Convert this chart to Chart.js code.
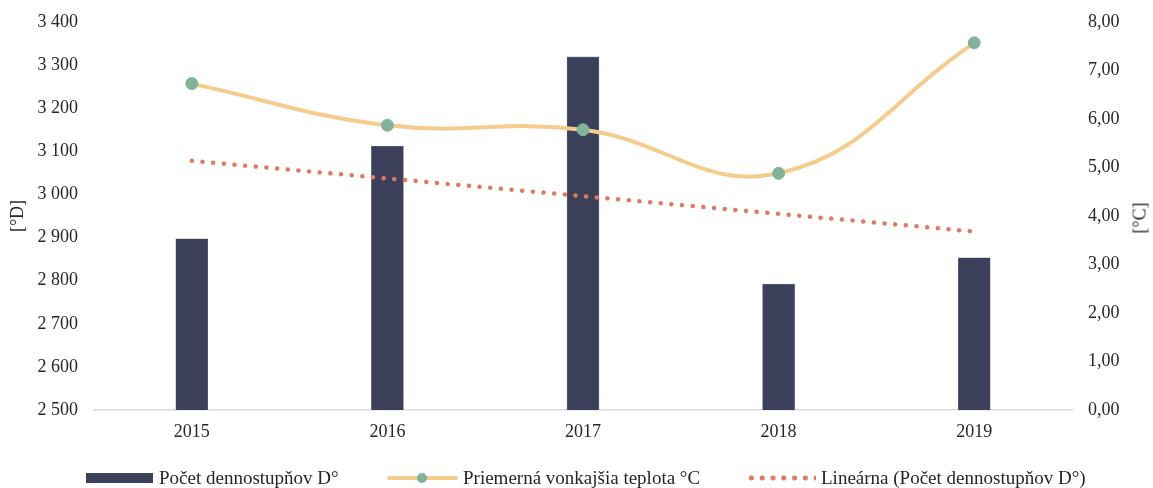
<!DOCTYPE html>
<html>
<head>
<meta charset="utf-8">
<script src="https://cdn.jsdelivr.net/npm/chart.js@4"></script>
<style>
  html, body { margin: 0; padding: 0; background: #fff; }
  #wrap { position: relative; width: 1153px; height: 488px; font-family: "Liberation Serif", "Times New Roman", serif; }
  #legend { position: absolute; left: 0; top: 466px; height: 24px; font-size: 19px; color: #262626; }
  .item { position: absolute; top: 0; white-space: nowrap; line-height: 24px; }
  .sw { position: absolute; }
  .txt { position: absolute; top: 0; }
  #rtitle { position: absolute; left: 1140px; top: 218px; font-size: 18px; color: #262626;
            transform: translate(-50%, -50%) rotate(-90deg); white-space: nowrap; }
</style>
</head>
<body>
<div id="wrap">
  <canvas id="chart" width="1153" height="488"></canvas>
  <div id="rtitle">[°C]</div>
  <div id="legend">
    <div class="item" style="left:86px">
      <span class="sw" style="left:0;top:7px;width:67px;height:10px;background:#3d405b"></span>
      <span class="txt" style="left:73px">Počet dennostupňov D°</span>
    </div>
    <div class="item" style="left:387px">
      <span class="sw" style="left:0;top:10px;width:71px;height:4px;background:#f5cc8c;border-radius:2px"></span>
      <span class="sw" style="left:30px;top:7px;width:10px;height:10px;background:#81b29a;border-radius:50%"></span>
      <span class="txt" style="left:76px">Priemerná vonkajšia teplota °C</span>
    </div>
    <div class="item" style="left:746px">
      <span class="sw" style="left:0;top:9px;width:70px;height:6px;background:radial-gradient(circle, #e07a5f 2.3px, transparent 2.8px) 0 0/10.8px 6px repeat-x"></span>
      <span class="txt" style="left:75px">Lineárna (Počet dennostupňov D°)</span>
    </div>
  </div>
</div>
<script>
const years = ['2015', '2016', '2017', '2018', '2019'];
const degreeDays = [2897, 3112, 3319, 2792, 2853];
const avgTemp = [6.73, 5.87, 5.78, 4.88, 7.57];
const trendDegreeDays = [3078, 3037, 2996, 2955, 2914];

const leftTicks = [2500, 3400, 100];
const rightTicks = [0, 8, 1];

const tickFont = { family: '"Liberation Serif", "Times New Roman", serif', size: 18 };
const textColor = '#262626';

// fixed axis boxes so the plot area lines up with the original
function fixVertical(width) {
  return s => {
    s.width = width;
    s.paddingTop = 0;
    s.paddingBottom = 0;
  };
}

new Chart(document.getElementById('chart'), {
  data: {
    labels: years,
    datasets: [
      {
        type: 'line',
        label: 'Priemerná vonkajšia teplota °C',
        data: avgTemp,
        yAxisID: 'y1',
        borderColor: '#f5cc8c',
        borderWidth: 4,
        tension: 0.42,
        pointRadius: 6,
        pointBackgroundColor: '#81b29a',
        pointBorderColor: '#81b29a',
        pointBorderWidth: 1,
        order: 1
      },
      {
        type: 'line',
        label: 'Lineárna (Počet dennostupňov D°)',
        data: trendDegreeDays,
        yAxisID: 'y',
        borderColor: '#e07a5f',
        borderWidth: 4.5,
        borderCapStyle: 'round',
        borderDash: [0.1, 10.6],
        pointRadius: 0,
        tension: 0,
        order: 2
      },
      {
        type: 'bar',
        label: 'Počet dennostupňov D°',
        data: degreeDays,
        yAxisID: 'y',
        backgroundColor: '#3d405b',
        borderColor: '#6b6e85',
        borderWidth: 0.6,
        barThickness: 32,
        order: 3
      }
    ]
  },
  options: {
    responsive: false,
    animation: false,
    layout: { padding: { top: 22, right: 0, left: 0, bottom: 0 } },
    plugins: {
      legend: { display: false },
      tooltip: { enabled: false }
    },
    scales: {
      x: {
        offset: true,
        grid: { display: false, drawTicks: false },
        border: { color: '#d9d9d9', width: 1.5 },
        ticks: { font: tickFont, color: textColor, padding: 11 },
        afterFit: s => { s.height = 78; s.paddingLeft = 0; s.paddingRight = 0; }
      },
      y: {
        position: 'left',
        min: leftTicks[0],
        max: leftTicks[1],
        grid: { display: false, drawTicks: false },
        border: { display: false },
        ticks: {
          stepSize: leftTicks[2],
          font: tickFont,
          color: textColor,
          padding: 16,
          callback: v => String(v).replace(/\B(?=(\d{3})+(?!\d))/g, ' ')
        },
        title: {
          display: true,
          text: '[°D]',
          font: tickFont,
          color: textColor,
          padding: { top: 7, bottom: 0 }
        },
        afterFit: fixVertical(94)
      },
      y1: {
        position: 'right',
        min: rightTicks[0],
        max: rightTicks[1],
        grid: { display: false, drawTicks: false },
        border: { display: false },
        ticks: {
          stepSize: rightTicks[2],
          font: tickFont,
          color: textColor,
          padding: 16,
          callback: v => v.toFixed(2).replace('.', ',')
        },
        afterFit: fixVertical(81)
      }
    }
  }
});
</script>
</body>
</html>
